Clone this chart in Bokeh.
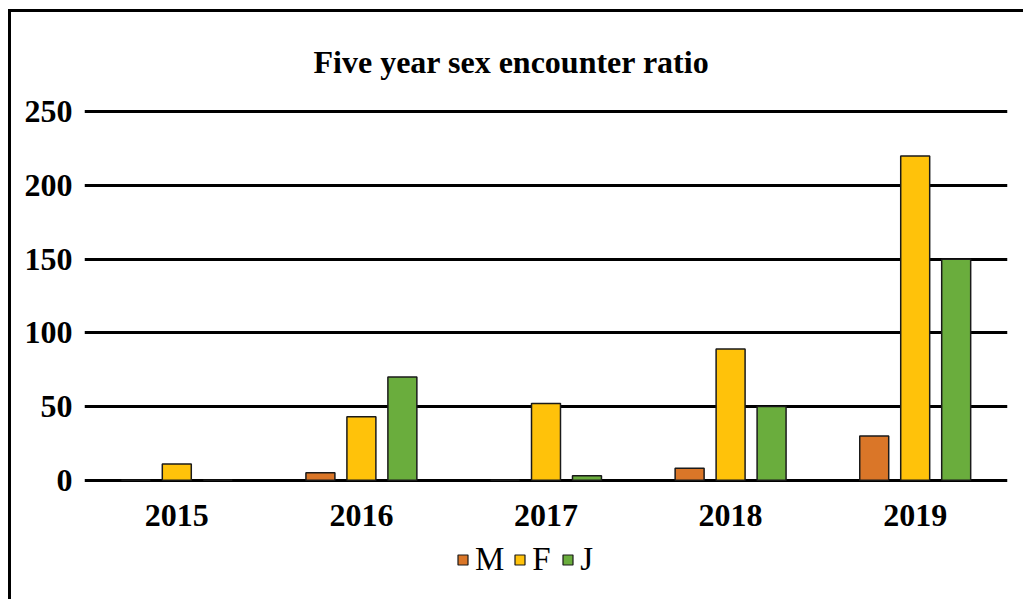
from bokeh.plotting import figure
from bokeh.layouts import column
from bokeh.models import ColumnDataSource, FactorRange, Range1d, FixedTicker, Legend, LegendItem
from bokeh.transform import dodge
from bokeh.embed import file_html
from bokeh.resources import INLINE

years = ["2015", "2016", "2017", "2018", "2019"]
male = [0, 5, 0, 8, 30]
female = [11, 43, 52, 89, 220]
juvenile = [0, 70, 3, 50, 150]
series_names = ["M", "F", "J"]
y_ticks = [0, 50, 100, 150, 200, 250]
title_text = "Five year sex encounter ratio"

colors = ["#DA7628", "#FFC20A", "#6AAD3D"]
FONT = "Liberation Serif"
W = 1023
H_MAIN = 540
H_LEG = 59

src = ColumnDataSource(dict(year=years, M=male, F=female, J=juvenile))

frame_css = ("linear-gradient(black, black) 8px 9px / 3px 100% no-repeat, "
             "linear-gradient(black, black) 8px 9px / 100% 3px no-repeat, white")

p = figure(x_range=FactorRange(*years), y_range=Range1d(-1.6, 251.6),
           width=W, height=H_MAIN, output_backend="svg", toolbar_location=None,
           title=title_text, min_border_left=84, min_border_right=16,
           min_border_top=109, min_border_bottom=58)

p.title.align = "left"
p.title.offset = 229
p.title.text_font = FONT
p.title.text_font_size = "32px"
p.title.text_font_style = "bold"
p.title.text_color = "black"
p.title.standoff = 60

p.outline_line_color = None
p.background_fill_color = None
p.border_fill_color = None

p.xgrid.grid_line_color = None
p.ygrid.grid_line_color = "black"
p.ygrid.grid_line_width = 3
p.yaxis.ticker = FixedTicker(ticks=y_ticks)

for ax in (p.xaxis, p.yaxis):
    ax.axis_line_color = None
    ax.major_tick_line_color = None
    ax.minor_tick_line_color = None
    ax.major_tick_out = 0
    ax.major_tick_in = 0
    ax.major_label_text_font = FONT
    ax.major_label_text_font_size = "32px"
    ax.major_label_text_font_style = "bold"
    ax.major_label_text_color = "black"
p.yaxis.major_label_standoff = 12
p.xaxis.major_label_standoff = 22

offsets = [-0.222, 0.0, 0.222]
renderers = []
for name, off, col in zip(series_names, offsets, colors):
    r = p.vbar(x=dodge("year", off, range=p.x_range), top=name, width=0.157,
               source=src, fill_color=col, line_color="#1a1a1a", line_width=1.5)
    renderers.append(r)

# legend strip below the chart (its markers lie outside the strip's view; only the legend shows)
lf = figure(width=W, height=H_LEG, output_backend="svg", toolbar_location=None,
            x_range=FactorRange(*years), y_range=Range1d(1000, 1001),
            x_axis_location=None, y_axis_location=None,
            min_border=0, min_border_left=0, min_border_right=0,
            min_border_top=0, min_border_bottom=0)
lf.outline_line_color = None
lf.background_fill_color = None
lf.border_fill_color = None
lf.grid.visible = False
leg_renderers = []
for name, col in zip(series_names, colors):
    leg_renderers.append(lf.scatter(x="year", y=name, marker="square", size=10, source=src,
                                    fill_color=col, line_color="#1a1a1a", line_width=1.2))

legend = Legend(items=[LegendItem(label=n, renderers=[r]) for n, r in zip(series_names, leg_renderers)],
                orientation="horizontal", location=(366, 21),
                label_text_font=FONT, label_text_font_size="33px", label_text_color="black",
                glyph_width=25, glyph_height=25, label_standoff=0, spacing=3,
                border_line_color=None, background_fill_alpha=0, padding=0, margin=0)
lf.add_layout(legend, "center")

layout = column(p, lf, spacing=0, styles={"background": frame_css})

open("out.html", "w").write(file_html(layout, INLINE))
